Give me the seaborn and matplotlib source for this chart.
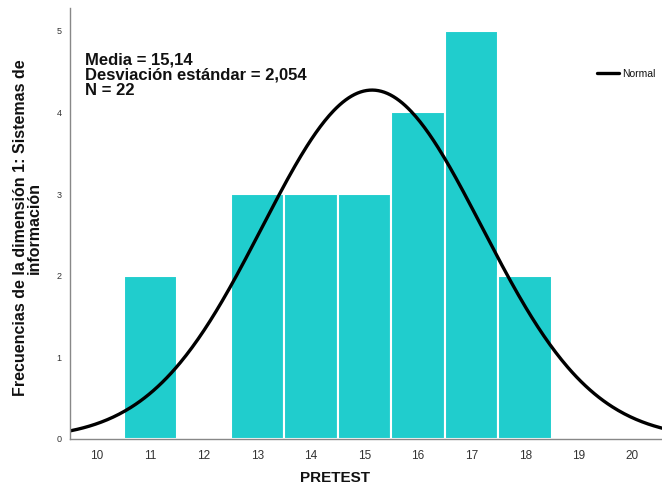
import numpy as np
import pandas as pd
import matplotlib
matplotlib.use("Agg")
import matplotlib.pyplot as plt
import seaborn as sns

# PRETEST scores and their frequencies
scores = [11, 13, 14, 15, 16, 17, 18]
counts = [2, 3, 3, 3, 4, 5, 2]
x_ticks = [10, 11, 12, 13, 14, 15, 16, 17, 18, 19, 20]
y_ticks = [0, 1, 2, 3, 4, 5]

mean = 15.14
sd = 2.054
n = 22
stats_lines = ["Media = 15,14", "Desviación estándar = 2,054", "N = 22"]

sns.set_style("white")
plt.rcParams["font.family"] = ["Liberation Sans", "DejaVu Sans"]
plt.rcParams["text.color"] = "#111111"
plt.rcParams["axes.labelcolor"] = "#111111"

fig = plt.figure(figsize=(6.62, 4.91), dpi=100)
ax = fig.add_axes([0.1057, 0.106, 0.894, 0.878])

df = pd.DataFrame({"PRETEST": scores, "freq": counts})
sns.histplot(data=df, x="PRETEST", weights="freq", discrete=True, ax=ax,
             color="#20CDCD", edgecolor="white", linewidth=1.5, alpha=1.0)

# fitted normal curve scaled to counts (bin width 1)
xs = np.linspace(9.5, 20.6, 400)
ys = n * np.exp(-0.5 * ((xs - mean) / sd) ** 2) / (sd * np.sqrt(2 * np.pi))
curve = pd.DataFrame({"x": xs, "y": ys})
sns.lineplot(data=curve, x="x", y="y", ax=ax, color="black", linewidth=2.4,
             label="Normal")

ax.set_xlim(9.5, 20.55)
ax.set_ylim(0, 5.28)
ax.set_xticks(x_ticks)
ax.set_yticks(y_ticks)
ax.tick_params(axis="x", labelsize=8.5, colors="#333333", length=0, pad=8)
ax.tick_params(axis="y", labelsize=6.5, colors="#333333", length=0, pad=6)

for side in ["top", "right"]:
    ax.spines[side].set_visible(False)
for side in ["left", "bottom"]:
    ax.spines[side].set_color("#888888")
    ax.spines[side].set_linewidth(1.0)

ax.set_xlabel("PRETEST", fontsize=11, fontweight="bold")
ax.xaxis.set_label_coords(0.448, -0.075)
ax.set_ylabel("Frecuencias de la dimensión 1: Sistemas de\ninformación",
              fontsize=11.5, fontweight="bold", linespacing=0.95)
ax.yaxis.set_label_coords(-0.047, 0.49)

# summary statistics block, one line per text
for i, line in enumerate(stats_lines):
    ax.text(0.025, 0.869 - i * 0.036, line, transform=ax.transAxes,
            fontsize=12, fontweight="bold", va="baseline", ha="left")

ax.legend(loc="center right", bbox_to_anchor=(1.0, 0.847), frameon=False,
          fontsize=7.5, handlelength=2.1, handletextpad=0.3, borderaxespad=0.2)

fig.savefig("out.png", dpi=100)
